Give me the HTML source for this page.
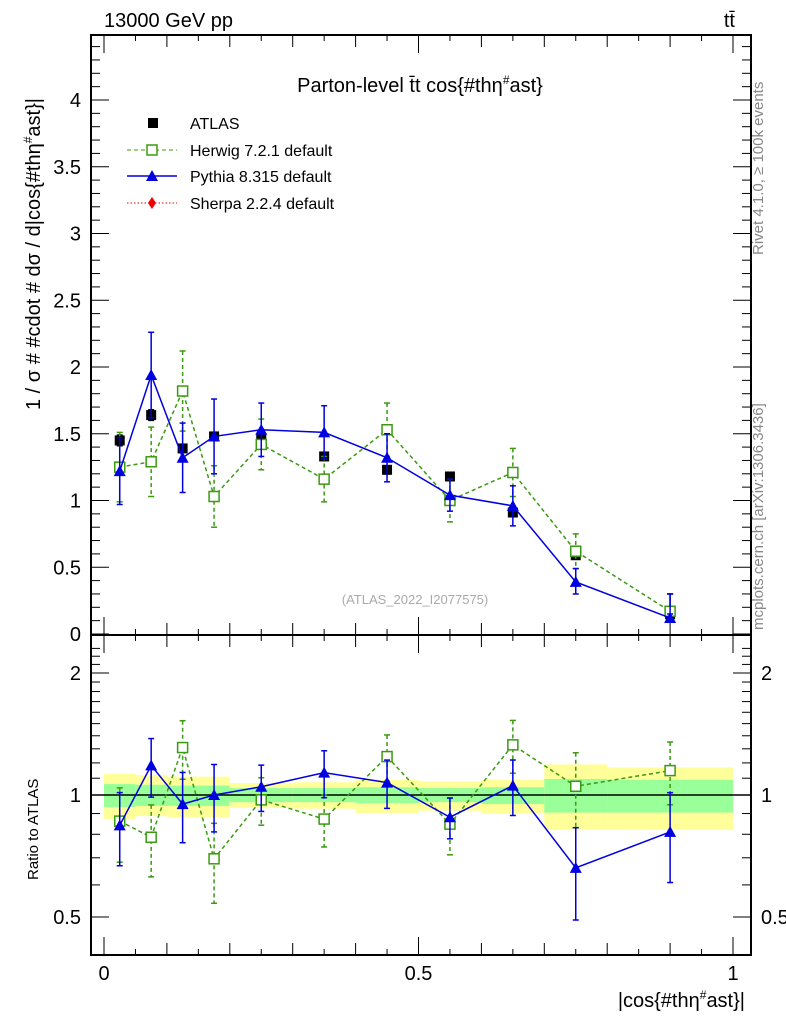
<!DOCTYPE html>
<html><head><meta charset="utf-8"><style>
html,body{margin:0;padding:0;background:#fff;}
svg{display:block;font-family:"Liberation Sans",sans-serif;}
</style></head><body>
<svg id="c" width="786" height="1024" viewBox="0 0 786 1024" xmlns="http://www.w3.org/2000/svg">
<g id="bands"></g>
<g id="axes"></g>
<g id="series"></g>
<text x="104" y="27" font-size="20">13000 GeV pp</text>
<text x="735" y="27" font-size="20" text-anchor="end">tt̄</text>
<text x="420" y="92" font-size="20" text-anchor="middle">Parton-level t̄t cos{#thη<tspan dy="-8" font-size="12">#</tspan><tspan dy="8">ast}</tspan></text>
<text transform="translate(763,255) rotate(-90)" font-size="15" fill="#888">Rivet 4.1.0, ≥ 100k events</text>
<text transform="translate(763,630) rotate(-90)" font-size="15" fill="#888">mcplots.cern.ch [arXiv:1306.3436]</text>
<text x="415" y="604" font-size="13" fill="#aaa" text-anchor="middle">(ATLAS_2022_I2077575)</text>
<text transform="translate(40,410) rotate(-90)" font-size="20">1 / σ # #cdot # dσ / d|cos{#thη<tspan dy="-8" font-size="12">#</tspan><tspan dy="8">ast}|</tspan></text>
<text transform="translate(38,880) rotate(-90)" font-size="15">Ratio to ATLAS</text>
<text x="745" y="1007" font-size="20" text-anchor="end">|cos{#thη<tspan dy="-8" font-size="12">#</tspan><tspan dy="8">ast}|</tspan></text>
<g>
 <g><rect x="148" y="118" width="10" height="10" fill="#000"/><text x="190" y="129" font-size="16">ATLAS</text></g>
 <g><line x1="127" y1="150" x2="177" y2="150" stroke="#3a9a10" stroke-dasharray="4,3"/><rect x="147" y="145" width="10" height="10" fill="#fff" stroke="#3a9a10" stroke-width="1.5"/><text x="190" y="156" font-size="16">Herwig 7.2.1 default</text></g>
 <g><line x1="127" y1="176" x2="177" y2="176" stroke="#0000e0" stroke-width="1.5"/><polygon points="152,170 158,181 146,181" fill="#0000e0"/><text x="190" y="182" font-size="16">Pythia 8.315 default</text></g>
 <g><line x1="127" y1="203" x2="177" y2="203" stroke="#e00" stroke-dasharray="1.5,2"/><polygon points="152,197 156,203 152,209 148,203" fill="#e00"/><text x="190" y="209" font-size="16">Sherpa 2.2.4 default</text></g>
</g>
</svg>
<script>
const binEdges=[0,0.05,0.1,0.15,0.2,0.3,0.4,0.5,0.6,0.7,0.8,1.0];
const atlasVals=[1.45,1.64,1.39,1.48,1.46,1.33,1.23,1.18,0.91,0.59,0.148];
const atlasErr=[0.04,0.04,0.03,0.03,0.03,0.03,0.03,0.03,0.03,0.03,0.01];
const herwigVals=[1.25,1.29,1.82,1.03,1.42,1.16,1.53,1.00,1.21,0.62,0.17];
const herwigErr=[0.26,0.26,0.30,0.23,0.19,0.17,0.20,0.16,0.18,0.13,0.03];
const pythiaVals=[1.22,1.94,1.32,1.48,1.53,1.51,1.32,1.04,0.96,0.39,0.12];
const pythiaErr=[0.25,0.32,0.26,0.28,0.20,0.20,0.18,0.12,0.15,0.10,0.03];
const yellowHi=[1.127,1.12,1.11,1.11,1.07,1.075,1.089,1.08,1.09,1.19,1.17];
const yellowLo=[0.873,0.887,0.88,0.88,0.93,0.925,0.903,0.915,0.90,0.82,0.82];
const greenHi=[1.064,1.06,1.055,1.055,1.04,1.04,1.045,1.04,1.045,1.095,1.09];
const greenLo=[0.934,0.94,0.94,0.94,0.96,0.96,0.955,0.96,0.95,0.905,0.905];
const topTicks=[0,0.5,1,1.5,2,2.5,3,3.5,4];
const ratioTicks=[0.5,1,2];
const xTicks=[0,0.5,1];

const NS="http://www.w3.org/2000/svg";
const L=91,R=751,T=35,M=635,B=955;
const X=v=>104+v*629;
const Y=v=>634-v*133.5;
const RY=r=>795-405.3*Math.log10(r);
function mk(p,tag,at){const e=document.createElementNS(NS,tag);for(const k in at)e.setAttribute(k,at[k]);p.appendChild(e);return e;}
const ax=document.getElementById('axes'),bd=document.getElementById('bands'),se=document.getElementById('series');

for(let i=0;i<atlasVals.length;i++){
 const x0=X(binEdges[i]),x1=X(binEdges[i+1]);
 const y1=mk(bd,'rect',{x:x0,y:RY(yellowHi[i]),width:x1-x0,height:RY(yellowLo[i])-RY(yellowHi[i]),fill:'#ffff99'});
 
 
 const g1=mk(bd,'rect',{x:x0,y:RY(greenHi[i]),width:x1-x0,height:RY(greenLo[i])-RY(greenHi[i]),fill:'#99ff99'});
 
 
}
mk(bd,'line',{x1:L,x2:R,y1:RY(1),y2:RY(1),stroke:'#000','stroke-width':1.5});

mk(ax,'rect',{x:L,y:T,width:R-L,height:M-T,fill:'none',stroke:'#000','stroke-width':2});
mk(ax,'rect',{x:L,y:M,width:R-L,height:B-M,fill:'none',stroke:'#000','stroke-width':2});
for(let v=0;v<=4.45;v+=0.1){const y=Y(v);const maj=Math.abs(v*2-Math.round(v*2))<1e-6;const l=maj?18:9;
 mk(ax,'line',{x1:L,x2:L+l,y1:y,y2:y,stroke:'#000'});mk(ax,'line',{x1:R,x2:R-l,y1:y,y2:y,stroke:'#000'});}
topTicks.forEach(v=>{const t=mk(ax,'text',{x:L-10,y:Y(v)+7,'font-size':20,'text-anchor':'end'});t.textContent=String(v);
 
 });
for(let r=0.4;r<=2.31;r+=0.1){const y=RY(r);if(y<M||y>B)continue;const maj=[0.5,1,2].some(m=>Math.abs(m-r)<1e-6);const l=maj?18:9;
 mk(ax,'line',{x1:L,x2:L+l,y1:y,y2:y,stroke:'#000'});mk(ax,'line',{x1:R,x2:R-l,y1:y,y2:y,stroke:'#000'});}
ratioTicks.forEach(v=>{[[L-10,'end'],[R+10,'start']].forEach(([x,a])=>{const t=mk(ax,'text',{x:x,y:RY(v)+7,'font-size':20,'text-anchor':a});t.textContent=String(v);
 
 });});
for(let k=0;k<=20;k++){const v=k*0.05,x=X(v);const l=k%10==0?18:(k%2==0?12:6);
 [T,M].forEach(y=>mk(ax,'line',{x1:x,x2:x,y1:y,y2:y+l,stroke:'#000'}));
 [M,B].forEach(y=>mk(ax,'line',{x1:x,x2:x,y1:y,y2:y-l,stroke:'#000'}));}
xTicks.forEach(v=>{const t=mk(ax,'text',{x:X(v),y:980,'font-size':20,'text-anchor':'middle'});t.textContent=String(v);
 
 });

const ctr=i=>(binEdges[i]+binEdges[i+1])/2;
function drawSeries(vals,errs,color,dash,marker,name,yf,ratio){
 const g=mk(se,'g',{});
 
 
 const v=vals.map((d,i)=>ratio?d/atlasVals[i]:d);
 const e=errs.map((d,i)=>ratio?d/atlasVals[i]:d);
 if(marker!=='sq'){
  mk(g,'polyline',{points:v.map((d,i)=>X(ctr(i))+','+yf(d)).join(' '),fill:'none',stroke:color,'stroke-width':1.5,'stroke-dasharray':dash});
 }
 v.forEach((d,i)=>{const x=X(ctr(i));
  const lo=Math.max(d-e[i],0.3);
  mk(g,'line',{x1:x,x2:x,y1:yf(d+e[i]),y2:yf(lo),stroke:color,'stroke-width':1.5,'stroke-dasharray':dash});
  [yf(d+e[i]),yf(lo)].forEach(y=>mk(g,'line',{x1:x-3,x2:x+3,y1:y,y2:y,stroke:color,'stroke-width':1.5}));
  const y=yf(d);let m;
  if(marker==='sq') m=mk(g,'rect',{x:x-5,y:y-5,width:10,height:10,fill:'#000'});
  else if(marker==='osq') m=mk(g,'rect',{x:x-5,y:y-5,width:10,height:10,fill:'#fff',stroke:color,'stroke-width':1.5});
  else m=mk(g,'polygon',{points:`${x},${y-6} ${x+6},${y+5} ${x-6},${y+5}`,fill:color});
  
  
 });
}
drawSeries(atlasVals,atlasErr,'#000','','sq','atlas-data',Y,false);
drawSeries(herwigVals,herwigErr,'#3a9a10','4,3','osq','herwig-line',Y,false);
drawSeries(pythiaVals,pythiaErr,'#0000e0','','tri','pythia-line',Y,false);
drawSeries(herwigVals,herwigErr,'#3a9a10','4,3','osq','herwig-ratio',RY,true);
drawSeries(pythiaVals,pythiaErr,'#0000e0','','tri','pythia-ratio',RY,true);
</script>
</body></html>
